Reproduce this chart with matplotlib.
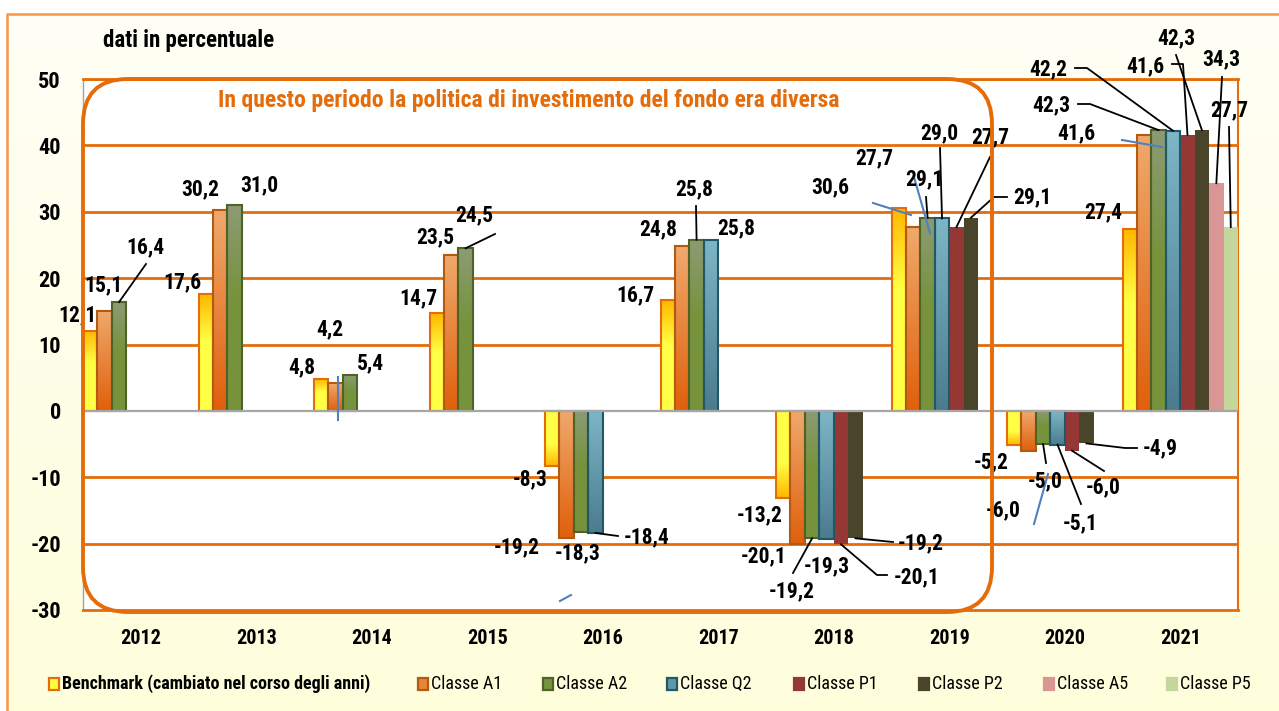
import numpy as np
import matplotlib
matplotlib.use("Agg")
import matplotlib.pyplot as plt
from matplotlib.patches import Rectangle, FancyBboxPatch
from matplotlib.transforms import IdentityTransform
from matplotlib.colors import to_rgb
from matplotlib import font_manager

# ---------------- data ----------------
years = ["2012", "2013", "2014", "2015", "2016", "2017", "2018", "2019", "2020", "2021"]
series_names = ["Benchmark (cambiato nel corso degli anni)", "Classe A1", "Classe A2",
                "Classe Q2", "Classe P1", "Classe P2", "Classe A5", "Classe P5"]
benchmark = [12.1, 17.6, 4.8, 14.7, -8.3, 16.7, -13.2, 30.6, -5.2, 27.4]
classe_a1 = [15.1, 30.2, 4.2, 23.5, -19.2, 24.8, -20.1, 27.7, -6.0, 41.6]
classe_a2 = [16.4, 31.0, 5.4, 24.5, -18.3, 25.8, -19.2, 29.1, -5.0, 42.3]
classe_q2 = [None, None, None, None, -18.4, 25.8, -19.3, 29.0, -5.1, 42.2]
classe_p1 = [None, None, None, None, None, None, -20.1, 27.7, -6.0, 41.6]
classe_p2 = [None, None, None, None, None, None, -19.2, 29.1, -4.9, 42.3]
classe_a5 = [None, None, None, None, None, None, None, None, None, 34.3]
classe_p5 = [None, None, None, None, None, None, None, None, None, 27.7]
all_series = [benchmark, classe_a1, classe_a2, classe_q2, classe_p1, classe_p2, classe_a5, classe_p5]
y_ticks = [-30, -20, -10, 0, 10, 20, 30, 40, 50]

# ---------------- styles ----------------
flat_colors = ["#FFFF40", "#E8843A", "#77933C", "#5E97A8", "#953735", "#4A452A", "#D99694", "#C3D69B"]
edge_colors = ["#E46C0A", "#B35A10", "#4F6228", "#215868", "#953735", "#4A452A", "#D99694", "#C3D69B"]
edge_widths = [1.5, 1.5, 1.5, 1.5, 0, 0, 0, 0]
# gradient stops (top -> bottom) for positive bars
grad_stops = [
    [(0.0, "#FFB800"), (0.4, "#FFFF45"), (1.0, "#FFFF45")],
    [(0.0, "#EFA96C"), (1.0, "#E0600C")],
    [(0.0, "#8C9B74"), (0.45, "#76933C"), (1.0, "#76933C")],
    [(0.0, "#7DB6C6"), (1.0, "#4B7C8E")],
    None, None, None, None,
]
flip_negative = [True, False, False, False, False, False, False, False]
ORANGE = "#E46C0A"
BLUE = "#4F81BD"

# label centres (reference pixels) keyed by (year index, series index)
label_px = {
    (0, 0): (77, 315), (0, 1): (103, 285), (0, 2): (145, 247),
    (1, 0): (182, 282), (1, 1): (200, 189), (1, 2): (259, 185),
    (2, 0): (302, 367), (2, 1): (330, 329), (2, 2): (370, 363),
    (3, 0): (418, 298), (3, 1): (435, 237), (3, 2): (474, 215),
    (4, 0): (530, 479), (4, 1): (517, 547), (4, 2): (578, 553), (4, 3): (647, 537),
    (5, 0): (635, 295), (5, 1): (658, 229), (5, 2): (694, 189), (5, 3): (736, 228),
    (6, 0): (760, 515), (6, 1): (764, 556), (6, 2): (792, 591), (6, 3): (827, 566),
    (6, 4): (917, 577), (6, 5): (921, 543),
    (7, 0): (830, 187), (7, 1): (874, 158), (7, 2): (924, 179), (7, 3): (939, 133),
    (7, 4): (990, 137), (7, 5): (1032, 197),
    (8, 0): (991, 462), (8, 1): (1003, 510), (8, 2): (1045, 481), (8, 3): (1080, 523),
    (8, 4): (1103, 487), (8, 5): (1160, 448),
    (9, 0): (1103, 212), (9, 1): (1076, 133), (9, 2): (1051, 105), (9, 3): (1048, 69),
    (9, 4): (1145, 66), (9, 5): (1176, 38), (9, 6): (1221, 59), (9, 7): (1229, 110),
}
# leader lines: waypoints (reference pixels) from label side, ending at the bar end
leaders = {
    (0, 2): [(146, 264)],
    (3, 2): [(495, 234)],
    (4, 3): [(618, 536)],
    (5, 2): [(696, 206)],
    (6, 2): [(793, 573)],
    (6, 4): [(887, 575), (877, 575)],
    (6, 5): [(893, 542)],
    (7, 2): [(926, 197)],
    (7, 3): [(940, 148)],
    (7, 4): [(990, 157)],
    (7, 5): [(1007, 197), (994, 197)],
    (8, 2): [(1046, 463)],
    (8, 3): [(1081, 504)],
    (8, 4): [(1104, 471)],
    (8, 5): [(1137, 448), (1125, 448)],
    (9, 2): [(1078, 104), (1090, 104)],
    (9, 3): [(1075, 68), (1087, 68)],
    (9, 4): [(1172, 64), (1183, 64)],
    (9, 5): [(1176, 55)],
    (9, 6): [(1222, 77)],
    (9, 7): [(1229, 127)],
}
stray_blue = [[(338, 377), (338, 420)], [(560, 601), (571, 595)], [(873, 203), (911, 215)],
              [(914, 177), (930, 233)], [(1034, 524), (1048, 474)], [(1122, 140), (1162, 147)]]
legend_x = [49, 418, 543, 667, 794, 919, 1044, 1167]

# ---------------- fonts ----------------
avail = {f.name for f in font_manager.fontManager.ttflist}
NARROW = next((f for f in ["Liberation Sans Narrow", "Roboto Condensed", "Liberation Sans"] if f in avail), "DejaVu Sans")
plt.rcParams["font.family"] = [NARROW, "DejaVu Sans"]

W, H = 1279, 711
fig = plt.figure(figsize=(W / 100, H / 100), dpi=100)

# background
bg = fig.add_axes([0, 0, 1, 1], zorder=-10)
t = np.linspace(0, 1, 256)[:, None, None]
ctop = np.array(to_rgb("#FEFEF6"))
cbot = np.array(to_rgb("#FFFFDC"))
bg.imshow(ctop * (1 - t) + cbot * t, extent=[0, W, 0, H], aspect="auto", origin="upper")
bg.add_patch(Rectangle((0, H - 14), W, 14, color="white", zorder=2))
bg.add_patch(Rectangle((0, 0), 7, H, color="white", zorder=2))
bg.plot([7, 7, W], [0, H - 14, H - 14], color="#F79646", lw=1.8, zorder=3)
bg.set_xlim(0, W)
bg.set_ylim(0, H)
bg.axis("off")

ax = fig.add_axes([83 / W, (H - 610) / H, (1238 - 83) / W, (610 - 79) / H])
ax.set_facecolor("white")
ax.set_xlim(-0.5, len(years) - 0.5)
ax.set_ylim(min(y_ticks), max(y_ticks))


def P(px, py):
    return ax.transData.inverted().transform((px, H - py))


n_ser = len(all_series)
bw = 1.0 / n_ser


def gradient_img(stops, neg_flip):
    pos = np.linspace(0, 1, 64)
    if neg_flip:
        pos = 1 - pos
    xs = [s[0] for s in stops]
    cols = np.array([to_rgb(s[1]) for s in stops])
    img = np.stack([np.interp(pos, xs, cols[:, k]) for k in range(3)], axis=-1)
    return img[:, None, :]


bar_ends = {}
for j, vals in enumerate(all_series):
    idx = [i for i, v in enumerate(vals) if v is not None]
    xs = [i - 0.5 + (j + 0.5) * bw for i in idx]
    vs = [vals[i] for i in idx]
    bars = ax.bar(xs, vs, width=bw, color=flat_colors[j], edgecolor="none", zorder=3)
    for i, x, v, b in zip(idx, xs, vs, bars):
        bar_ends[(i, j)] = (x, v)
        if grad_stops[j] is not None:
            img = gradient_img(grad_stops[j], flip_negative[j] and v < 0)
            im = ax.imshow(img, extent=(x - bw / 2, x + bw / 2, min(0, v), max(0, v)),
                           aspect="auto", origin="upper", interpolation="bilinear", zorder=3.05)
            im.set_clip_path(b)
    if edge_widths[j] > 0:
        ax.bar(xs, vs, width=bw, fill=False, edgecolor=edge_colors[j], lw=edge_widths[j], zorder=3.1)

ax.set_xlim(-0.5, len(years) - 0.5)
ax.set_ylim(min(y_ticks), max(y_ticks))

# grid
for yv in y_ticks:
    if yv == 0:
        ax.axhline(yv, color="#A6A6A6", lw=1.6, zorder=3.3)
    elif yv != min(y_ticks):
        ax.axhline(yv, color=ORANGE, lw=2, zorder=1)

ax.spines["left"].set_color("#A0A0A0")
ax.spines["left"].set_linewidth(1)
ax.spines["bottom"].set_color(ORANGE)
ax.spines["bottom"].set_linewidth(2)
ax.spines["right"].set_color(ORANGE)
ax.spines["right"].set_linewidth(1.5)
ax.spines["top"].set_color(ORANGE)
ax.spines["top"].set_linewidth(2)

ax.set_yticks(y_ticks)
ax.set_yticklabels([str(v) for v in y_ticks], fontsize=16, fontweight="bold")
ax.set_xticks(range(len(years)))
ax.set_xticklabels(years, fontsize=14.5, fontweight="bold")
ax.tick_params(axis="y", length=0, pad=16)
ax.tick_params(axis="x", length=0, pad=14)

# labels
for (i, j), (px, py) in label_px.items():
    v = all_series[j][i]
    x, y = P(px, py)
    ax.text(x, y, f"{v:.1f}".replace(".", ","), ha="center", va="center", fontsize=15.5,
            fontweight="bold", color="black", zorder=7, clip_on=False)

for (i, j), pts in leaders.items():
    xe, ve = bar_ends[(i, j)]
    path = [P(px, py) for px, py in pts] + [(xe, ve)]
    ax.plot([p[0] for p in path], [p[1] for p in path], color="black", lw=1.3, zorder=6, clip_on=False)

for seg in stray_blue:
    pp = [P(px, py) for px, py in seg]
    ax.plot([p[0] for p in pp], [p[1] for p in pp], color=BLUE, lw=1.5, zorder=6, clip_on=False)

# rounded frame
frame = FancyBboxPatch((83, H - 612), 992 - 83, 612 - 79, boxstyle="round,pad=0,rounding_size=45",
                       transform=IdentityTransform(), fill=False, ec=ORANGE, lw=2.8, zorder=8)
fig.add_artist(frame)

fig.text(529 / W, 1 - 100 / H, "In questo periodo la politica di investimento del fondo era diversa",
         ha="center", va="center", fontsize=17, fontweight="bold", color=ORANGE)
fig.text(103 / W, 1 - 40 / H, "dati in percentuale", ha="left", va="center",
         fontsize=16.5, fontweight="bold", color="black")

# legend
for j, name in enumerate(series_names):
    lx = legend_x[j]
    fig.add_artist(Rectangle((lx, H - 690), 10, 12, transform=IdentityTransform(),
                             facecolor=flat_colors[j], edgecolor=edge_colors[j], lw=1.6))
    fig.text((lx + 13) / W, 1 - 684 / H, name, ha="left", va="center", fontsize=13,
             fontweight="bold" if j == 0 else "normal", color="black")

fig.savefig("out.png", dpi=100)
